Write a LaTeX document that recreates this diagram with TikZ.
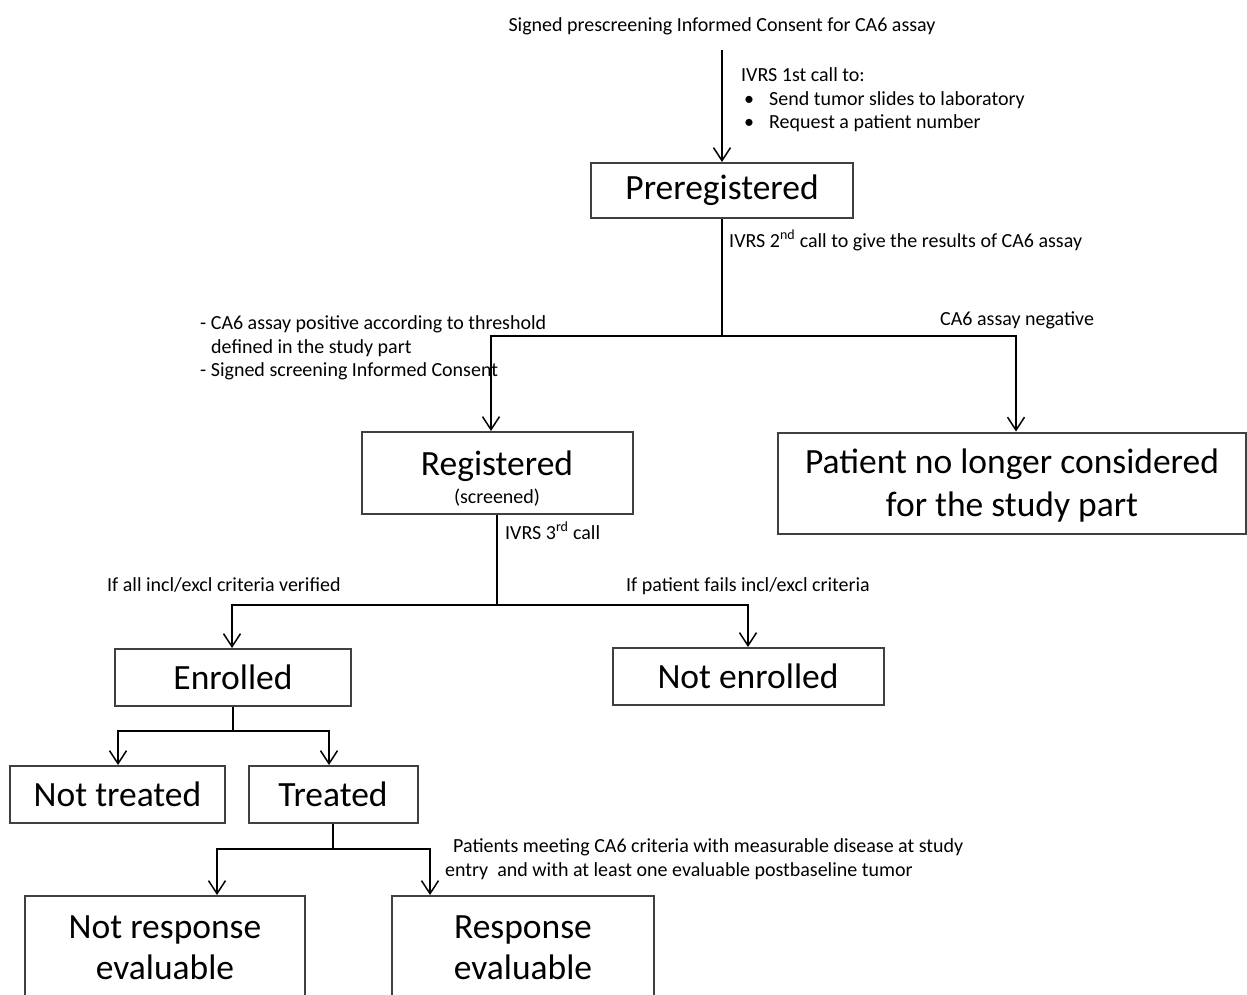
\documentclass[tikz,border=0pt]{standalone}
\usepackage{fontspec}
\setmainfont{Carlito}
\usetikzlibrary{arrows.meta}
\definecolor{boxc}{HTML}{404040}
\newcommand\bigfnt{\fontsize{35.5}{43}\selectfont}
\newcommand\smallfnt{\fontsize{20}{23.5}\selectfont}
\begin{document}
\begin{tikzpicture}[x=1pt,y=-1pt,
  box/.style={draw=boxc, line width=2pt, inner sep=0pt, align=center, font=\bigfnt},
  conn/.style={line width=1.5pt, black},
  arr/.style={conn, -{Straight Barb[length=13pt,width=17pt]}},
  lbl/.style={inner sep=0pt, align=left, font=\smallfnt},
]
\clip (0,0) rectangle (1247,994);
\fill[white] (0,0) rectangle (1247,994);

% boxes
\node[box, minimum width=262, minimum height=55] (pre) at (722,190.5) {Preregistered};
\node[box, minimum width=271, minimum height=82] (reg) at (497,473) {\rule{0pt}{36pt}Registered\\[-15pt]{\smallfnt (screened)}};
\node[box, minimum width=468, minimum height=101] (pat) at (1012,483) {\rule{0pt}{29pt}Patient no longer considered\\for the study part};
\node[box, minimum width=236, minimum height=57] (enr) at (233,677.5) {Enrolled};
\node[box, minimum width=271, minimum height=57] (nenr) at (748,676.5) {Not enrolled};
\node[box, minimum width=215, minimum height=57] (nt) at (117.5,794.5) {Not treated};
\node[box, minimum width=169, minimum height=57] (tr) at (333,794.5) {Treated};
\node[box, minimum width=280, minimum height=103] (nre) at (165,947.5) {Not response\\[-2pt]evaluable};
\node[box, minimum width=262, minimum height=103] (re) at (523,947.5) {Response\\[-2pt]evaluable};

% labels
\node[lbl, anchor=base] (consent) at (722,31) {Signed prescreening Informed Consent for CA6 assay};
\node[lbl, anchor=west] (ivrs1) at (741,100) {IVRS 1st call to:\\\makebox[28pt][l]{\hspace{3pt}•}Send tumor slides to laboratory\\\makebox[28pt][l]{\hspace{3pt}•}Request a patient number};
\node[lbl, anchor=base west] (ivrs2) at (729,247) {IVRS 2\textsuperscript{nd} call to give the results of CA6 assay};
\node[lbl, anchor=west] (pos) at (200,348) {- CA6 assay positive according to threshold\\\hspace{11pt}defined in the study part\\- Signed screening Informed Consent};
\node[lbl, anchor=base west] (neg) at (940,325) {CA6 assay negative};
\node[lbl, anchor=base west] (ivrs3) at (505,539) {IVRS 3\textsuperscript{rd} call};
\node[lbl, anchor=base west] (incl) at (107,591) {If all incl/excl criteria verified};
\node[lbl, anchor=base west] (fail) at (626,591) {If patient fails incl/excl criteria};
\node[lbl, anchor=west] (meas) at (445,859) {\hspace{8pt}Patients meeting CA6 criteria with measurable disease at study\\entry\ \ and with at least one evaluable postbaseline tumor};

% connectors
\coordinate (c0) at (722,50);
\draw[arr] (c0) -- (pre.north);

\coordinate (j1) at (722,336);
\draw[conn] (pre.south) -- (j1);
\draw[arr] (j1) -| ([xshift=-6pt]reg.north);
\draw[arr] (j1) -| ([xshift=4pt]pat.north);

\coordinate (j2) at (497,605);
\draw[conn] (reg.south) -- (j2);
\draw[arr] (j2) -| ([xshift=-1pt]enr.north);
\draw[arr] (j2) -| (nenr.north);

\coordinate (j3) at (233,731);
\draw[conn] (enr.south) -- (j3);
\draw[arr] (j3) -| ([xshift=0.5pt]nt.north);
\draw[arr] (j3) -| ([xshift=-4pt]tr.north);

\coordinate (j4) at (333,849);
\draw[conn] (tr.south) -- (j4);
\draw[arr] (j4) -| ([xshift=52pt]nre.north);
\draw[arr] (j4) -| ([xshift=-93pt]re.north);
\end{tikzpicture}
\end{document}
